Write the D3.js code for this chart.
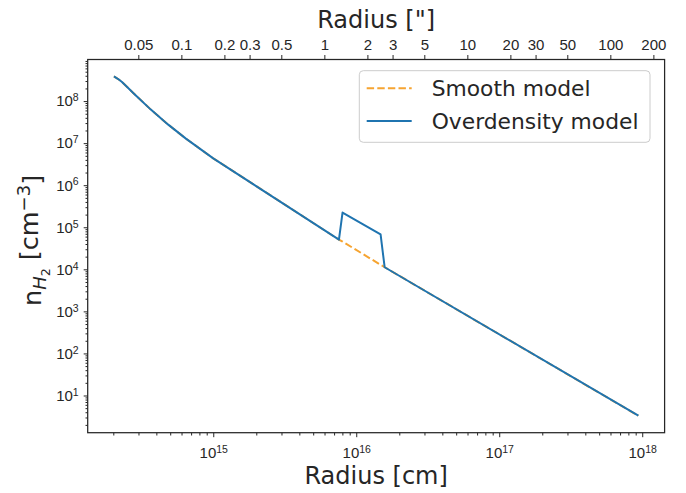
<!DOCTYPE html>
<html>
<head>
<meta charset="utf-8">
<script src="https://cdn.jsdelivr.net/npm/d3@7"></script>
<style>
  html, body { margin: 0; padding: 0; background: #fff; }
  svg { display: block; font-family: "DejaVu Sans", sans-serif; }
</style>
</head>
<body>
<svg id="chart" width="686" height="493"></svg>
<script>
// H2 number density profiles (cm^-3) against radius (cm)
const smoothRadius  = [2.02e14, 2.15e14, 2.29e14, 2.51e14, 2.78e14, 3.66e14, 4.82e14, 6.44e14, 1.0e15, 7.57e15, 8.02e15, 1.58e16, 9.4e17];
const smoothDensity = [3.85e8, 3.39e8, 2.88e8, 2.14e8, 1.52e8, 6.27e7, 2.79e7, 1.28e7, 4.35e6, 5.07e4, 4.55e4, 1.12e4, 3.3];

const overRadius  = [2.02e14, 2.15e14, 2.29e14, 2.51e14, 2.78e14, 3.66e14, 4.82e14, 6.44e14, 1.0e15, 7.57e15, 8.02e15, 1.48e16, 1.58e16, 9.4e17];
const overDensity = [3.85e8, 3.39e8, 2.88e8, 2.14e8, 1.52e8, 6.27e7, 2.79e7, 1.28e7, 4.35e6, 5.07e4, 2.24e5, 6.78e4, 1.12e4, 3.3];

// Tick values
const xMajorTicks = [1e15, 1e16, 1e17, 1e18];
const yMajorTicks = [1e1, 1e2, 1e3, 1e4, 1e5, 1e6, 1e7, 1e8];
const arcsecTicks = [0.05, 0.1, 0.2, 0.3, 0.5, 1, 2, 3, 5, 10, 20, 30, 50, 100, 200];
const arcsecLabels = ["0.05", "0.1", "0.2", "0.3", "0.5", "1", "2", "3", "5", "10", "20", "30", "50", "100", "200"];

const distancePc = 400;           // source distance
const AU_CM = 1.495978707e13;     // cm per AU
const cmPerArcsec = distancePc * AU_CM;

const legendItems = [
  { label: "Smooth model", color: "#f6a431", dash: "7.4,3.2" },
  { label: "Overdensity model", color: "#1f74b0", dash: null }
];

const W = 686, H = 493;
const margin = { left: 87.7, right: W - 664.6, top: 59.5, bottom: H - 432.7 };
const textColor = "#262626";

const svg = d3.select("#chart");

// log-space extent padded by 5% on both sides
function paddedLogDomain(values) {
  const lo = Math.log10(d3.min(values)), hi = Math.log10(d3.max(values));
  const pad = (hi - lo) * 0.05;
  return [Math.pow(10, lo - pad), Math.pow(10, hi + pad)];
}

const x = d3.scaleLog()
  .domain(paddedLogDomain(smoothRadius.concat(overRadius)))
  .range([margin.left, W - margin.right]);
const y = d3.scaleLog()
  .domain(paddedLogDomain(smoothDensity.concat(overDensity)))
  .range([H - margin.bottom, margin.top]);

const x0 = margin.left, x1 = W - margin.right, y0 = H - margin.bottom, y1 = margin.top;

// minor ticks 2..9 in each decade within a domain
function minorTicks(scale) {
  const [a, b] = scale.domain();
  const out = [];
  for (let e = Math.floor(Math.log10(a)); e <= Math.ceil(Math.log10(b)); e++) {
    for (let m = 2; m <= 9; m++) {
      const v = m * Math.pow(10, e);
      if (v >= a && v <= b) out.push(v);
    }
  }
  return out;
}

function styleAxis(g) {
  g.select(".domain").remove();
  g.selectAll(".tick line").attr("stroke", textColor).attr("stroke-width", 1);
  g.selectAll(".tick text").attr("fill", textColor);
}

// power-of-ten label with superscript exponent
function powerLabel(sel, horizontalAnchor) {
  sel.each(function(d) {
    const t = d3.select(this);
    const exp = Math.round(Math.log10(d));
    t.text(null).attr("text-anchor", horizontalAnchor).style("font-size", "15px");
    t.append("tspan").text("10");
    t.append("tspan").text(exp).attr("dy", "-0.48em").style("font-size", "10.5px");
  });
}

// Bottom axis
const gx = svg.append("g").attr("transform", `translate(0,${y0})`);
gx.call(d3.axisBottom(x).tickValues(minorTicks(x)).tickSize(2.8).tickFormat(""));
const gxMajor = svg.append("g").attr("transform", `translate(0,${y0})`);
gxMajor.call(d3.axisBottom(x).tickValues(xMajorTicks).tickSize(4.5).tickPadding(8));
gxMajor.selectAll(".tick text").attr("dy", "0.85em").call(powerLabel, "middle");
styleAxis(gx); styleAxis(gxMajor);

// Left axis
const gy = svg.append("g").attr("transform", `translate(${x0},0)`);
gy.call(d3.axisLeft(y).tickValues(minorTicks(y)).tickSize(2.2).tickFormat(""));
const gyMajor = svg.append("g").attr("transform", `translate(${x0},0)`);
gyMajor.call(d3.axisLeft(y).tickValues(yMajorTicks).tickSize(4).tickPadding(5));
gyMajor.selectAll(".tick text").attr("dy", "0.32em").call(powerLabel, "end");
styleAxis(gy); styleAxis(gyMajor);

// Top axis in arcseconds
const gTop = svg.append("g").attr("transform", `translate(0,${y1})`);
gTop.call(d3.axisTop(x)
  .tickValues(arcsecTicks.map(a => a * cmPerArcsec))
  .tickSize(4.5).tickPadding(5)
  .tickFormat((d, i) => arcsecLabels[i]));
gTop.selectAll(".tick text").style("font-size", "15px");
styleAxis(gTop);

// Frame
svg.append("rect")
  .attr("x", x0).attr("y", y1)
  .attr("width", x1 - x0).attr("height", y0 - y1)
  .attr("fill", "none").attr("stroke", textColor).attr("stroke-width", 1.25);

// Curves
svg.append("clipPath").attr("id", "plotclip")
  .append("rect").attr("x", x0).attr("y", y1).attr("width", x1 - x0).attr("height", y0 - y1);

const line = d3.line().x(d => x(d[0])).y(d => y(d[1]));
const plot = svg.append("g").attr("clip-path", "url(#plotclip)");

plot.append("path")
  .datum(d3.zip(smoothRadius, smoothDensity))
  .attr("d", line)
  .attr("fill", "none")
  .attr("stroke", legendItems[0].color)
  .attr("stroke-width", 2)
  .attr("stroke-dasharray", legendItems[0].dash);

plot.append("path")
  .datum(d3.zip(overRadius, overDensity))
  .attr("d", line)
  .attr("fill", "none")
  .attr("stroke", legendItems[1].color)
  .attr("stroke-width", 2)
  .attr("stroke-linejoin", "round");

// Axis titles
svg.append("text")
  .attr("x", (x0 + x1) / 2).attr("y", 484)
  .attr("text-anchor", "middle").attr("fill", textColor)
  .style("font-size", "24px").text("Radius [cm]");

svg.append("text")
  .attr("x", (x0 + x1) / 2).attr("y", 28)
  .attr("text-anchor", "middle").attr("fill", textColor)
  .style("font-size", "24px").text("Radius [\"]");

const yl = svg.append("text")
  .attr("transform", `translate(41,306) rotate(-90)`)
  .attr("text-anchor", "start").attr("fill", textColor)
  .style("font-size", "25.5px");
yl.append("tspan").text("n");
yl.append("tspan").text("H").attr("dy", "0.3em").style("font-size", "18px").style("font-style", "italic");
yl.append("tspan").text("2").attr("dy", "0.25em").style("font-size", "12.5px");
yl.append("tspan").text(" [cm").attr("dy", "-0.45em");
yl.append("tspan").text("\u22123").attr("dy", "-0.45em").style("font-size", "18px");
yl.append("tspan").text("]").attr("dy", "0.45em");

// Legend
const lg = svg.append("g");
lg.append("rect")
  .attr("x", 359.3).attr("y", 70.7).attr("width", 290.7).attr("height", 71.6)
  .attr("rx", 4).attr("fill", "rgba(255,255,255,0.8)")
  .attr("stroke", "#cccccc").attr("stroke-width", 1);
legendItems.forEach((item, i) => {
  const cy = 88.3 + i * 32.7;
  lg.append("line")
    .attr("x1", 366.7).attr("x2", 411.7).attr("y1", cy).attr("y2", cy)
    .attr("stroke", item.color).attr("stroke-width", 2)
    .attr("stroke-dasharray", item.dash);
  lg.append("text")
    .attr("x", 431.7).attr("y", cy).attr("dy", "0.35em")
    .attr("fill", textColor).style("font-size", "21.8px")
    .text(item.label);
});
</script>
</body>
</html>
